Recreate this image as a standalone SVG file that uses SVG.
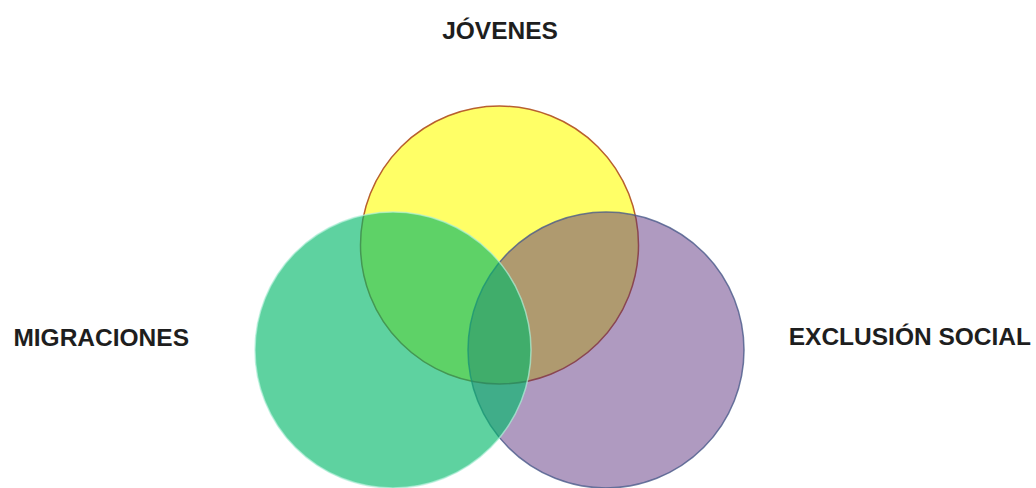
<svg xmlns="http://www.w3.org/2000/svg" width="1036" height="488" viewBox="0 0 1036 488">
<style>
.lbl{font-family:"Liberation Sans",Arial,sans-serif;font-weight:bold;font-size:24.5px;fill:#1e1e1e}
</style>
<rect width="1036" height="488" fill="#ffffff"/>
<g id="jovenes">
<circle cx="499.5" cy="245" r="139" fill="#ffff66" stroke="#b8602e" stroke-width="1.5"/>
</g>
<g id="exclusion">
<circle cx="606" cy="350" r="138" fill="#55287a" fill-opacity="0.47" stroke="#4a5a8a" stroke-width="1.5" stroke-opacity="0.8"/>
</g>
<g id="migraciones">
<circle cx="393" cy="350" r="138" fill="#00b868" fill-opacity="0.63" stroke="#b0f0d8" stroke-width="1.5" stroke-opacity="0.7"/>
</g>
<g id="labels">
<text class="lbl" x="500" y="39" text-anchor="middle">JÓVENES</text>
<text class="lbl" x="189" y="346" text-anchor="end">MIGRACIONES</text>
<text class="lbl" x="1031" y="345" text-anchor="end">EXCLUSIÓN SOCIAL</text>
</g>
</svg>
